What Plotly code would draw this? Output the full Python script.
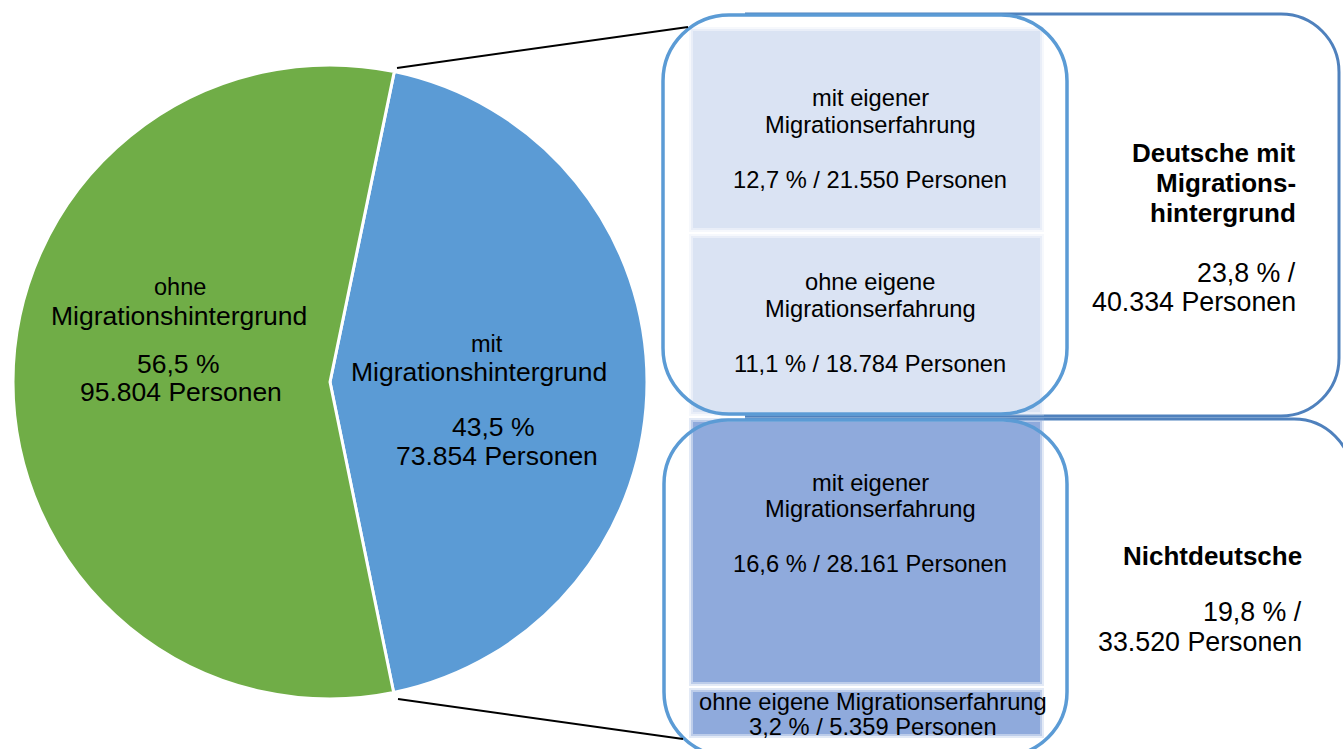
import plotly.graph_objects as go

# ---------------- data ----------------
pie_labels = ["mit Migrationshintergrund", "ohne Migrationshintergrund"]
pie_label_lines = [["mit", "Migrationshintergrund"], ["ohne", "Migrationshintergrund"]]
pie_percent = [43.5, 56.5]
pie_persons = [73854, 95804]
pie_colors = ["#5b9bd5", "#70ad47"]

group_label_lines = [["Deutsche mit", "Migrations-", "hintergrund"], ["Nichtdeutsche"]]
group_percent = [23.8, 19.8]
group_persons = [40334, 33520]

sub_label_lines = [
    ["mit eigener", "Migrationserfahrung"],
    ["ohne eigene", "Migrationserfahrung"],
    ["mit eigener", "Migrationserfahrung"],
    ["ohne eigene Migrationserfahrung"],
]
sub_percent = [12.7, 11.1, 16.6, 3.2]
sub_persons = [21550, 18784, 28161, 5359]
sub_colors = ["#dae3f3", "#dae3f3", "#8faadc", "#8faadc"]

W, H = 1343, 749
FONT = "Liberation Sans, Arial, sans-serif"


def pct(p):
    return f"{p:.1f}".replace(".", ",") + " %"


def pers(n):
    return f"{n:,}".replace(",", ".") + " Personen"


fig = go.Figure()

# pie
cx, cy, r = 330, 382, 317
fig.add_trace(go.Pie(
    labels=pie_labels, values=pie_persons, sort=False, direction="clockwise",
    rotation=11.7, textinfo="none", hoverinfo="label+percent",
    marker=dict(colors=pie_colors, line=dict(color="white", width=3)),
    domain=dict(x=[(cx - r) / W, (cx + r) / W], y=[(H - cy - r) / H, (H - cy + r) / H]),
    showlegend=False,
))

# invisible scatter to create a pixel-coordinate cartesian system
fig.add_trace(go.Scatter(x=[0, W], y=[0, H], mode="markers",
                         marker=dict(opacity=0), hoverinfo="skip", showlegend=False))

shapes = []


def rrect(x0, y0, x1, y1, rad):
    k = 0.5523 * rad
    return (f"M {x0+rad},{y0} L {x1-rad},{y0} "
            f"C {x1-rad+k},{y0} {x1},{y0+rad-k} {x1},{y0+rad} "
            f"L {x1},{y1-rad} "
            f"C {x1},{y1-rad+k} {x1-rad+k},{y1} {x1-rad},{y1} "
            f"L {x0+rad},{y1} "
            f"C {x0+rad-k},{y1} {x0},{y1-rad+k} {x0},{y1-rad} "
            f"L {x0},{y0+rad} "
            f"C {x0},{y0+rad-k} {x0+rad-k},{y0} {x0+rad},{y0} Z")


def right_open(xs, y0, x1, y1, rad):
    # rounded on the right, open on the left (left part hidden behind the inner box)
    k = 0.5523 * rad
    return (f"M {xs},{y0} L {x1-rad},{y0} "
            f"C {x1-rad+k},{y0} {x1},{y0+rad-k} {x1},{y0+rad} "
            f"L {x1},{y1-rad} "
            f"C {x1},{y1-rad+k} {x1-rad+k},{y1} {x1-rad},{y1} "
            f"L {xs},{y1}")


# outer group boxes
outer_boxes = [(745, 14, 1339, 416, 58), (745, 419, 1352, 800, 58)]
for (xs, y0, x1, y1, rad) in outer_boxes:
    shapes.append(dict(type="path", path=right_open(xs, y0, x1, y1, rad), xref="x", yref="y",
                       line=dict(color="#4f81bd", width=3), fillcolor="white", layer="above"))

# soft-edged inner rectangles
sub_rects = [(693, 31, 1040, 228), (693, 238, 1040, 412), (693, 422, 1040, 682), (693, 692, 1040, 734)]
for (x0, y0, x1, y1), col in zip(sub_rects, sub_colors):
    for e, op in [(4, 0.25), (2, 0.45), (0, 1.0)]:
        shapes.append(dict(type="rect", x0=x0 - e, x1=x1 + e, y0=y0 - e, y1=y1 + e,
                           xref="x", yref="y", line=dict(width=0), fillcolor=col,
                           opacity=op, layer="above"))

# inner boxes
inner_boxes = [(663, 15, 1067, 414, 66), (664, 420, 1067, 756, 64)]
for (x0, y0, x1, y1, rad) in inner_boxes:
    shapes.append(dict(type="path", path=rrect(x0, y0, x1, y1, rad), xref="x", yref="y",
                       line=dict(color="#5b9bd5", width=3.5), fillcolor="rgba(0,0,0,0)", layer="above"))

# connector lines
for (x0, y0, x1, y1) in [(397, 68, 688, 27), (398, 699, 683, 739)]:
    shapes.append(dict(type="line", x0=x0, y0=y0, x1=x1, y1=y1, xref="x", yref="y",
                       line=dict(color="black", width=2), layer="above"))

annotations = []


def txt(x, y, s, size, anchor="center", bold=False):
    annotations.append(dict(x=x, y=y, xref="x", yref="y", text=f"<b>{s}</b>" if bold else s,
                            showarrow=False, xanchor=anchor, yanchor="middle",
                            font=dict(family=FONT, size=size, color="black")))


# pie labels
pie_text_pos = [
    [(487, 344), (479, 372), (493, 427), (497, 456)],
    [(180, 287), (179, 316), (178, 364), (181, 392)],
]
for lines, p, n, pos in zip(pie_label_lines, pie_percent, pie_persons, pie_text_pos):
    txt(pos[0][0], pos[0][1], lines[0], 23.5)
    txt(pos[1][0], pos[1][1], lines[1], 26.5)
    txt(pos[2][0], pos[2][1], pct(p), 26.5)
    txt(pos[3][0], pos[3][1], pers(n), 26.5)

# sub-box labels
sub_text_pos = [
    [98, 125, 180],
    [282, 309, 364],
    [483, 509, 564],
    [702, 727],
]
for i, (lines, p, n, ys) in enumerate(zip(sub_label_lines, sub_percent, sub_persons, sub_text_pos)):
    xc = 870 if i < 3 else 873
    for ln, yy in zip(lines, ys):
        txt(xc, yy, ln, 23.7)
    txt(xc, ys[-1], f"{pct(p)} / {pers(n)}", 23.7)

# group labels
group_text_pos = [
    (1298, [153, 183, 213], [273, 302]),
    (1304, [556], [612, 642]),
]
for lines, p, n, (xr, ys, ys2) in zip(group_label_lines, group_percent, group_persons, group_text_pos):
    for ln, yy in zip(lines, ys):
        txt(xr, yy, ln, 26, anchor="right", bold=True)
    txt(xr, ys2[0], f"{pct(p)} /", 26.8, anchor="right")
    txt(xr, ys2[1], pers(n), 26.8, anchor="right")

fig.update_layout(
    width=W, height=H, margin=dict(l=0, r=0, t=0, b=0),
    paper_bgcolor="white", plot_bgcolor="rgba(0,0,0,0)",
    xaxis=dict(range=[0, W], visible=False, fixedrange=True, domain=[0, 1]),
    yaxis=dict(range=[H, 0], visible=False, fixedrange=True, domain=[0, 1]),
    shapes=shapes, annotations=annotations, showlegend=False,
)

fig.write_html(
    "out.html",
    config={"displayModeBar": False},
    post_script="document.body.style.margin='0';document.body.style.padding='0';document.body.style.overflow='hidden';",
)
